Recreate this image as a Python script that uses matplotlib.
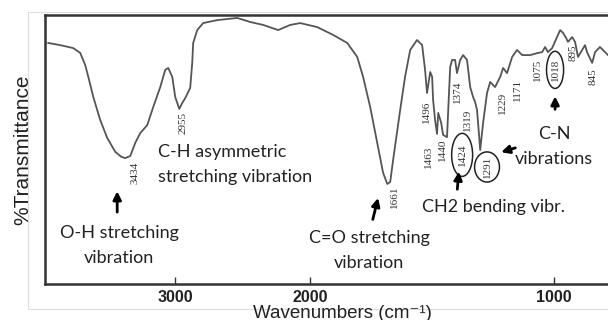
import numpy as np
import matplotlib
matplotlib.use("Agg")
import matplotlib.pyplot as plt
from matplotlib.patches import Ellipse, Rectangle

# IR spectrum (wavenumber in cm-1, transmittance in arbitrary %)
wavenumber = [3941, 3852, 3756, 3704, 3667, 3644, 3607, 3556, 3504, 3444,
              3400, 3370, 3333, 3296, 3259, 3207, 3163, 3111, 3074, 3052, 3022,
              3000, 2970, 2948, 2926, 2889, 2874, 2867, 2837, 2793, 2689,
              2541, 2444, 2348, 2237, 2148, 2074, 1971, 1906, 1848, 1807,
              1783, 1754, 1725, 1701, 1684, 1672, 1660, 1631, 1611, 1590,
              1562, 1541, 1529, 1521, 1508, 1500, 1496, 1488, 1480, 1475,
              1463, 1455, 1439, 1434, 1426, 1418, 1406, 1398, 1385, 1373,
              1357, 1344, 1332, 1324, 1316, 1307, 1303, 1291, 1275, 1262,
              1242, 1221, 1209, 1193, 1172, 1152, 1131, 1098, 1066, 1049,
              1037, 1025, 1008, 988, 975, 963, 951, 943, 926, 914,
              902, 885, 873, 865, 844, 832, 812, 791, 779]
transmittance = [89.6, 88.8, 87.7, 85.9, 81.4, 77.0, 69.5, 61.0, 54.3, 49.1,
                 47.3, 46.8, 47.6, 52.5, 56.1, 59.1, 65.8, 73.2, 79.6, 80.3, 77.0,
                 69.5, 65.1, 67.3, 69.1, 72.9, 82.2, 89.6, 94.4, 97.0, 98.1,
                 98.9, 97.4, 96.3, 94.4, 96.3, 97.0, 95.5, 92.6, 89.6, 84.4,
                 77.0, 65.8, 52.4, 41.3, 37.2, 37.9, 46.1, 64.7, 77.0, 87.0,
                 90.7, 88.8, 79.6, 71.0, 78.8, 77.0, 68.4, 61.0, 55.8, 63.6,
                 59.9, 55.4, 54.6, 64.7, 80.7, 83.3, 83.3, 78.4, 83.3, 85.1,
                 83.3, 73.2, 69.5, 67.7, 64.7, 54.6, 49.8, 59.9, 71.0, 75.1,
                 73.2, 77.0, 80.3, 78.4, 84.4, 87.0, 85.1, 85.1, 85.9, 86.2,
                 88.1, 86.2, 87.7, 91.8, 94.4, 93.3, 91.5, 90.0, 91.8, 90.0,
                 84.4, 87.0, 88.8, 86.2, 82.2, 86.2, 88.1, 86.2, 85.1]

# peak labels: text, wavenumber position, transmittance position
peak_labels = ["3434", "2955", "1661", "1496", "1463", "1440", "1424", "1374",
               "1319", "1291", "1229", "1171", "1075", "1018", "895", "845"]
peak_label_x = [3296, 2941, 1656, 1525, 1516, 1459, 1377, 1398,
                1357, 1275, 1213, 1152, 1070, 996, 922, 840]
peak_label_y = [41.3, 59.9, 32.3, 63.9, 47.2, 49.8, 48.0, 71.4,
                61.0, 43.5, 67.3, 72.1, 79.6, 79.6, 85.9, 77.0]

tick_values = [3000, 2000, 1000]


# spectrometer scale changes at 2000 cm-1
def fwd(w):
    w = np.asarray(w, dtype=float)
    return np.where(w >= 2000, (w - 2000) * 0.135, (w - 2000) * 0.244)


def inv(u):
    u = np.asarray(u, dtype=float)
    return np.where(u >= 0, 2000 + u / 0.135, 2000 + u / 0.244)


fig = plt.figure(figsize=(6.08, 3.2), dpi=100)
ax = fig.add_axes([45 / 608, 1 - 284 / 320, 1 - 45 / 608, (284 - 15) / 320])
ax.set_xscale("function", functions=(fwd, inv))
ax.plot(wavenumber, transmittance, color="#555555", lw=1.3, solid_joinstyle="round")
ax.set_xlim(3965, 779)
ax.set_ylim(0, 100)

for sp in ["left", "top", "bottom"]:
    ax.spines[sp].set_linewidth(1.8)
    ax.spines[sp].set_color("#333333")
ax.spines["right"].set_visible(False)
ax.set_yticks([])
ax.set_xticks(tick_values)
ax.set_xticklabels([str(t) for t in tick_values], fontsize=11.5, fontweight="bold",
                   family="Liberation Sans", color="#222222")
ax.tick_params(axis="x", direction="in", length=5, width=1, pad=4, color="#333333")
ax.minorticks_off()

# peak numbers
for lab, px, py in zip(peak_labels, peak_label_x, peak_label_y):
    ax.text(px, py, lab, rotation=90, ha="center", va="center", fontsize=8,
            family="Liberation Serif", color="#333333")

ax.add_patch(Ellipse((1377, 48.0), 86, 16.0, fill=False, lw=1.1, ec="#222222"))
ax.add_patch(Ellipse((1275, 43.5), 102, 11.2, fill=False, lw=1.1, ec="#222222"))
ax.add_patch(Ellipse((996, 79.6), 70, 13.8, fill=False, lw=1.1, ec="#222222"))

fnt = dict(fontsize=13, family="Lato", color="#222222")
arr = dict(arrowstyle="-|>", lw=2, color="black", mutation_scale=12)

ax.text(3415, 14.3, "O-H stretching\nvibration", ha="center", va="center", linespacing=1.75, **fnt)
ax.annotate("", xy=(3430, 35.5), xytext=(3430, 25.7), arrowprops=arr)

ax.text(3126, 44.4, "C-H asymmetric\nstretching vibration", ha="left", va="center", linespacing=1.75, **fnt)

ax.text(1758, 12.5, "C=O stretching\nvibration", ha="center", va="center", linespacing=1.75, **fnt)
ax.annotate("", xy=(1719, 33.0), xytext=(1746, 23.0), arrowprops=arr)

ax.text(1541, 28.6, "CH2 bending vibr.", ha="left", va="center", **fnt)
ax.annotate("", xy=(1389, 42.8), xytext=(1398, 34.2), arrowprops=arr)

ax.text(1000, 51.1, "C-N\nvibrations", ha="center", va="center", linespacing=1.75, **fnt)
ax.annotate("", xy=(996, 70.8), xytext=(996, 63.9), arrowprops=arr)
ax.annotate("", xy=(1228, 48.7), xytext=(1148, 50.9), arrowprops=arr)

fig.text(23 / 608, 1 - 150 / 320, "%Transmittance", rotation=90, ha="center", va="center",
         fontsize=15, family="Liberation Sans", color="#222222")
fig.text(342 / 608, 1 - 313 / 320, "Wavenumbers (cm\u207b\u00b9)", ha="center", va="center",
         fontsize=13.5, family=["Liberation Sans", "DejaVu Sans"], color="#222222")

# faint outer frame of the scanned figure
fig.add_artist(Rectangle((28 / 608, 1 - 309 / 320), 1.0, (309 - 12) / 320,
                         transform=fig.transFigure, fill=False, lw=0.8, ec="#dddddd"))

fig.savefig("out.png", dpi=100)
